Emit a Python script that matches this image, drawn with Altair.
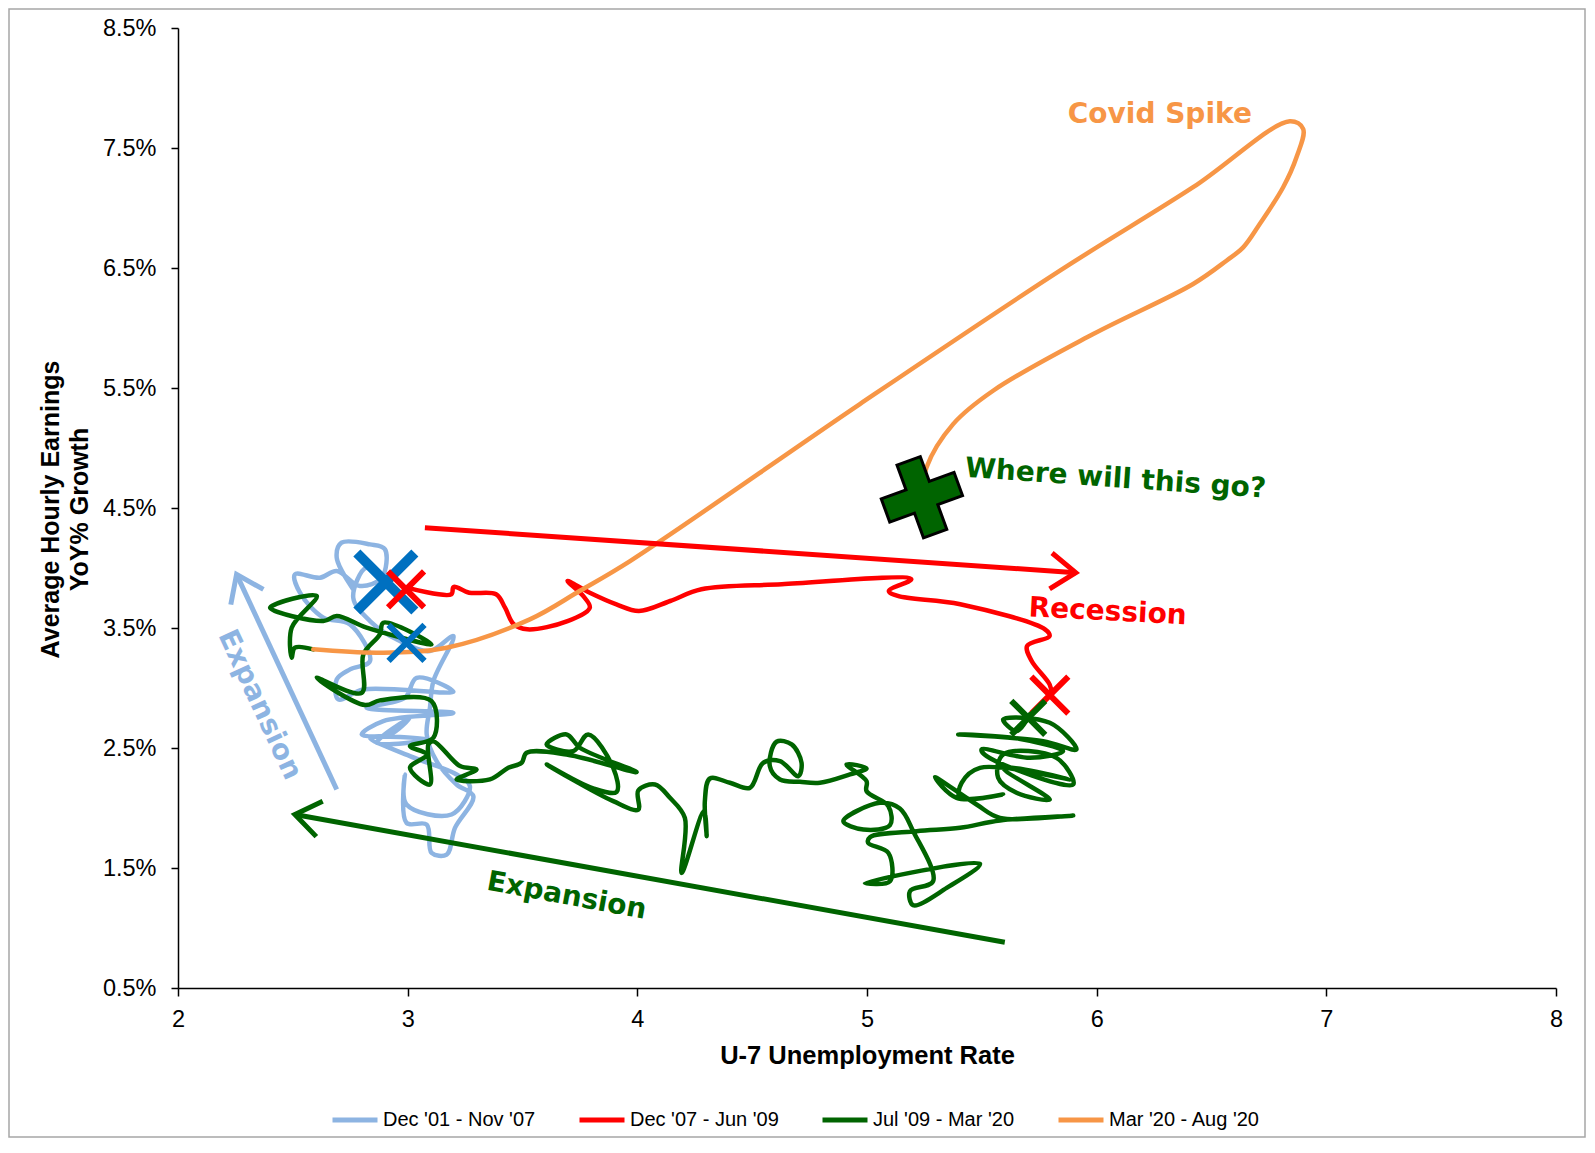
import math
import altair as alt
import pandas as pd

# ---------------- data ----------------
series_names = ["Dec '01 - Nov '07", "Dec '07 - Jun '09", "Jul '09 - Mar '20", "Mar '20 - Aug '20"]
series_colors = ["#8DB4E2", "#FF0000", "#006400", "#F79646"]

blue_x = [2.763, 2.691, 2.712, 2.836, 2.901, 2.887, 2.792, 2.691, 2.618, 2.509, 2.531, 2.633, 2.749,
          2.836, 2.749, 2.691, 2.698, 2.807, 3.199, 3.039, 2.988, 2.821, 3.199, 2.894, 2.800, 2.923,
          3.010, 2.865, 3.097, 2.836, 3.010, 3.213, 3.271, 3.191, 2.995, 2.988, 2.995, 3.083, 3.104,
          3.170, 3.206, 3.286, 3.213, 3.126, 3.083, 3.097, 3.112, 3.199, 3.097, 2.966, 2.836, 2.763,
          2.821, 2.901]
blue_y = [3.822, 4.086, 4.211, 4.197, 4.156, 3.919, 3.850, 3.975, 3.919, 3.947, 3.794, 3.586, 3.530,
          3.224, 3.155, 3.071, 2.905, 2.988, 2.969, 3.085, 2.919, 2.835, 2.793, 2.724, 2.613, 2.613,
          2.752, 2.543, 2.571, 2.585, 2.432, 2.279, 2.182, 1.946, 2.029, 2.279, 1.876, 1.862, 1.626,
          1.612, 1.834, 2.098, 2.196, 2.390, 2.613, 2.835, 3.058, 3.433, 3.308, 3.391, 3.558, 3.753,
          4.003, 3.878]

red_x = [2.996, 3.190, 3.200, 3.268, 3.385, 3.424, 3.462, 3.521, 3.696, 3.793, 3.764, 3.696, 3.793,
         3.909, 4.007, 4.143, 4.279, 4.629, 5.193, 5.095, 5.134, 5.406, 5.775, 5.795, 5.697, 5.717,
         5.795, 5.805]
red_y = [3.836, 3.781, 3.842, 3.794, 3.781, 3.669, 3.531, 3.489, 3.558, 3.669, 3.767, 3.892, 3.794,
         3.697, 3.642, 3.725, 3.823, 3.864, 3.906, 3.809, 3.767, 3.698, 3.489, 3.433, 3.350, 3.225,
         3.030, 2.947]

green_x = [5.709, 5.651, 5.593, 5.796, 5.912, 5.767, 5.397, 5.651, 5.854, 5.709, 5.499, 5.521, 5.898,
           5.825, 5.593, 5.571, 5.651, 5.796, 5.593, 5.883, 5.492, 5.412, 5.404, 5.593, 5.390, 5.296,
           5.477, 5.579, 5.898,
           5.579, 5.405, 5.216, 5.013, 5.005, 5.093, 5.100, 4.991, 5.492, 5.347, 5.201, 5.187, 5.288,
           5.201, 5.143, 5.056, 4.897, 4.984, 5.100, 5.093, 4.998, 4.998, 4.911, 4.998, 4.926,
           4.795, 4.708,
           4.621, 4.577, 4.606, 4.672, 4.715, 4.701, 4.621, 4.548, 4.490, 4.403, 4.316, 4.294, 4.302,
           4.290, 4.193, 4.207, 4.142, 4.077, 4.004, 4.004, 3.895, 3.605, 3.808, 3.910, 3.895, 3.786,
           3.721, 3.605, 3.692, 3.750, 3.997, 3.692, 3.518, 3.496, 3.438, 3.358, 3.213, 3.300, 3.228,
           3.112,
           3.090, 3.097, 3.010, 3.083, 3.010, 3.112, 3.104, 2.879, 2.814, 2.604, 2.800, 2.807, 2.879,
           2.894, 3.104, 2.821, 2.691, 2.633, 2.401, 2.604, 2.495, 2.495, 2.509, 2.589]
green_y = [2.780, 2.641, 2.738, 2.710, 2.488, 2.557, 2.613, 2.580, 2.474, 2.418, 2.488, 2.432, 2.196,
           2.418, 2.446, 2.252, 2.127, 2.071, 2.335, 2.238, 2.335, 2.210, 2.085, 2.113, 2.085, 2.257,
           2.029, 1.918, 1.937,
           1.896, 1.835, 1.807, 1.757, 1.710, 1.626, 1.390, 1.376, 1.535, 1.334, 1.190, 1.307, 1.390,
           1.807, 1.996, 2.043, 1.890, 1.821, 1.857, 2.016, 2.141, 2.224, 2.363, 2.330, 2.280,
           2.210, 2.218,
           2.238, 2.349, 2.552, 2.530, 2.377, 2.266, 2.391, 2.377, 2.168, 2.210, 2.246, 2.057, 1.765,
           1.974, 1.459, 1.918, 2.085, 2.196, 2.146, 1.987, 2.057, 2.363, 2.163, 2.135, 2.335, 2.613,
           2.474, 2.530, 2.613, 2.502, 2.299, 2.446, 2.460, 2.377, 2.335, 2.238, 2.238, 2.321, 2.349,
           2.557,
           2.530, 2.196, 2.335, 2.446, 2.516, 2.585, 2.891, 2.897, 2.858, 3.086, 2.960, 3.280, 3.447,
           3.544, 3.364, 3.503, 3.600, 3.558, 3.669, 3.767, 3.503, 3.252, 3.336, 3.322]

orange_x = [2.589, 2.879, 3.170, 3.532, 3.750, 3.970, 4.969, 5.840, 6.420, 6.841, 6.899, 6.870, 6.812,
            6.710, 6.638, 6.565, 6.420, 5.985, 5.549, 5.375, 5.259, 5.239]
orange_y = [3.322, 3.294, 3.336, 3.572, 3.810, 4.060, 5.366, 6.478, 7.173, 7.723, 7.660, 7.423, 7.173,
            6.867, 6.672, 6.561, 6.367, 5.950, 5.477, 5.199, 4.838, 4.590]

x_ticks = [2, 3, 4, 5, 6, 7, 8]
y_ticks = [0.5, 1.5, 2.5, 3.5, 4.5, 5.5, 6.5, 7.5, 8.5]

# annotations: text, x, y
ann_text = ["Covid Spike", "Where will this go?", "Recession", "Expansion", "Expansion"]
ann_x = [6.275, 6.082, 6.048, 3.692, 2.354]
ann_y = [7.774, 4.740, 3.631, 1.264, 2.859]

# arrows: tail -> head
arrow_tail_x = [3.075, 5.600, 2.691]
arrow_tail_y = [4.336, 0.881, 2.154]
arrow_head_x = [5.909, 2.509, 2.255]
arrow_head_y = [3.961, 1.946, 3.947]

# markers
bigx_blue = (2.905, 3.883)
smallx_blue = (2.995, 3.377)
x_red_start = (2.993, 3.822)
x_red_end = (5.796, 2.941)
x_green_start = (5.702, 2.752)
plus_green = (5.239, 4.590)

# ---------------- layout ----------------
W, H = 1378, 960
X_DOMAIN = [2, 8]
Y_DOMAIN = [0.5, 8.5]
x_scale = alt.Scale(domain=X_DOMAIN, nice=False, zero=False)
y_scale = alt.Scale(domain=Y_DOMAIN, nice=False, zero=False)
AXFONT = "Liberation Sans"
ANNFONT = "DejaVu Sans"
X_TITLE = "U-7 Unemployment Rate"
Y_TITLE = ["Average Hourly Earnings", "YoY% Growth"]

axis_x = alt.Axis(values=x_ticks, format="d", grid=False, domainColor="black", domainWidth=1.5,
                  tickColor="black", tickWidth=1.5, tickSize=8, labelFont=AXFONT, labelFontSize=23.5,
                  labelColor="black", labelPadding=11, labelFlush=False, labelOverlap=False,
                  titleFont=AXFONT, titleFontSize=25.5, titleFontWeight="bold", titleColor="black",
                  titleY=67, titleBaseline="middle")
axis_y = alt.Axis(values=y_ticks, labelExpr="format(datum.value, '.1f') + '%'", grid=False,
                  domainColor="black", domainWidth=1.5, tickColor="black", tickWidth=1.5,
                  tickSize=7, labelFont=AXFONT, labelFontSize=23.5, labelColor="black",
                  labelPadding=15, labelFlush=False, labelOverlap=False,
                  titleFont=AXFONT, titleFontSize=25, titleFontWeight="bold", titleColor="black",
                  titleAngle=270, titleBaseline="top", titleAlign="center",
                  titleX=-140, titleY=481, titleLineHeight=29)


def enc(xf="x", yf="y"):
    return dict(x=alt.X(f"{xf}:Q", scale=x_scale, axis=axis_x, title=X_TITLE),
                y=alt.Y(f"{yf}:Q", scale=y_scale, axis=axis_y, title=Y_TITLE))


rows = []
for name, xs, ys in zip(series_names, [blue_x, red_x, green_x, orange_x], [blue_y, red_y, green_y, orange_y]):
    for i, (a, b) in enumerate(zip(xs, ys)):
        rows.append({"series": name, "x": a, "y": b, "i": i})
df = pd.DataFrame(rows)

lines = alt.Chart(df).mark_line(
    interpolate="catmull-rom", strokeWidth=4.5, strokeCap="round", strokeJoin="round"
).encode(
    **enc(),
    color=alt.Color("series:N", scale=alt.Scale(domain=series_names, range=series_colors),
                    legend=alt.Legend(orient="none", legendX=152, legendY=1067, direction="horizontal",
                                      columns=4, title=None, symbolType="stroke", symbolStrokeWidth=5,
                                      symbolSize=2025, symbolOpacity=1,
                                      labelFont="Liberation Sans Narrow, Liberation Sans",
                                      labelFontSize=20, labelColor="black", labelLimit=400,
                                      labelOffset=3, columnPadding=33)),
    order=alt.Order("i:Q"),
)

layers = [lines]

# arrows
sx, sy = W / (X_DOMAIN[1] - X_DOMAIN[0]), H / (Y_DOMAIN[1] - Y_DOMAIN[0])
arrow_colors = ["#FF0000", "#006400", "#8DB4E2"]
CHEVRON = "M -1 -0.72 L 0 0 L -1 0.72"
for tx, ty, hx, hy, col in zip(arrow_tail_x, arrow_tail_y, arrow_head_x, arrow_head_y, arrow_colors):
    d = pd.DataFrame({"x": [tx], "y": [ty], "x2": [hx], "y2": [hy]})
    layers.append(alt.Chart(d).mark_rule(color=col, strokeWidth=5).encode(
        **enc(), x2="x2:Q", y2="y2:Q"))
    ang = math.degrees(math.atan2(-(hy - ty) * sy, (hx - tx) * sx)) % 360
    h = pd.DataFrame({"x": [hx], "y": [hy]})
    layers.append(alt.Chart(h).mark_point(shape=CHEVRON, size=2500, filled=False, color=col,
                                          strokeWidth=5, opacity=1, angle=ang, strokeJoin="miter").encode(**enc()))

# X markers
XPATH = "M -1 -1 L 1 1 M -1 1 L 1 -1"
for (mx, my), col, span, sw in [
    (bigx_blue, "#0070C0", 58, 10),
    (smallx_blue, "#0070C0", 36, 6),
    (x_red_start, "#FF0000", 36, 6),
    (x_red_end, "#FF0000", 37, 6),
    (x_green_start, "#006400", 34, 6),
]:
    d = pd.DataFrame({"x": [mx], "y": [my]})
    layers.append(alt.Chart(d).mark_point(shape=XPATH, size=span * span, filled=False, color=col,
                                          strokeWidth=sw, opacity=1, strokeCap="butt").encode(**enc()))

PLUS = "M -0.32 -1 L 0.32 -1 L 0.32 -0.32 L 1 -0.32 L 1 0.32 L 0.32 0.32 L 0.32 1 L -0.32 1 L -0.32 0.32 L -1 0.32 L -1 -0.32 L -0.32 -0.32 Z"
d = pd.DataFrame({"x": [plus_green[0]], "y": [plus_green[1]]})
layers.append(alt.Chart(d).mark_point(shape=PLUS, size=6000, filled=True, fill="#006400", stroke="black",
                                      strokeWidth=3, opacity=1, angle=340).encode(**enc()))

# annotation texts
ann_style = [
    dict(color="#F79646", angle=0, fontSize=28, fontWeight="bold"),
    dict(color="#006400", angle=4, fontSize=28, fontWeight="bold"),
    dict(color="#FF0000", angle=3, fontSize=28, fontWeight="bold"),
    dict(color="#006400", angle=10.4, fontSize=28, fontWeight="bold"),
    dict(color="#8DB4E2", angle=65, fontSize=28, fontWeight="bold"),
]
for t, ax, ay, st in zip(ann_text, ann_x, ann_y, ann_style):
    d = pd.DataFrame({"x": [ax], "y": [ay]})
    layers.append(alt.Chart(d).mark_text(text=t, font=ANNFONT, align="center", baseline="middle", **st)
                  .encode(**enc()))

# outer frame
frame = alt.Chart(pd.DataFrame({"k": [0]})).mark_rect(fillOpacity=0, stroke="#A6A6A6", strokeWidth=1.5).encode(
    x=alt.value(-169), x2=alt.value(W + 29), y=alt.value(-19), y2=alt.value(H + 149))
layers.append(frame)

chart = alt.layer(*layers).properties(
    width=W, height=H,
    padding={"left": 170, "top": 20, "right": 30, "bottom": 150},
    autosize=alt.AutoSizeParams(type="none"),
).configure_view(stroke=None)

chart.save("out.html", embed_options={"renderer": "svg", "actions": False})
